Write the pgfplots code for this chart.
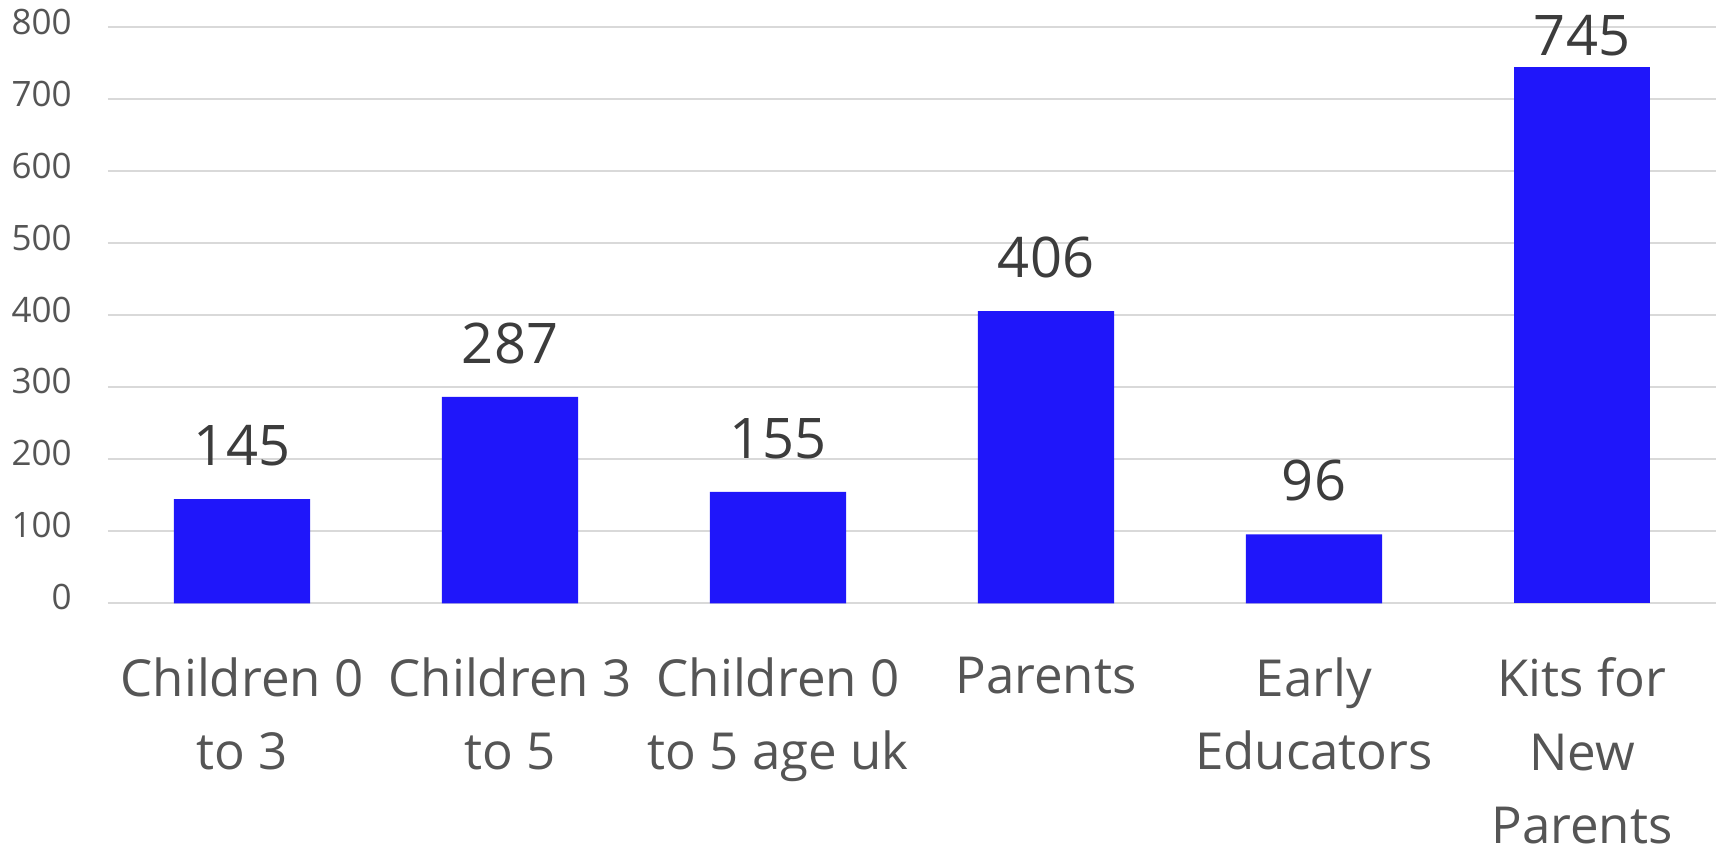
\documentclass[border=0pt]{standalone}
\usepackage{pgfplots}
\pgfplotsset{compat=1.18}
\usepackage{fontspec}
\setmainfont{Open Sans}
\definecolor{barblue}{RGB}{31,22,250}
\definecolor{ticktext}{RGB}{85,85,85}
\definecolor{valtext}{RGB}{60,60,60}
\definecolor{gridc}{RGB}{217,217,217}
\begin{document}
\begin{tikzpicture}
\begin{axis}[
  scale only axis,
  width=804pt, height=288pt,
  xmin=-0.5, xmax=5.5, ymin=0, ymax=800,
  ytick={0,100,...,800},
  xtick={0,1,2,3,4,5},
  xticklabels={{Children 0\\to 3},{Children 3\\to 5},{Children 0\\to 5 age uk},{Parents},{Early\\Educators},{Kits for\\New\\Parents}},
  xticklabel style={font=\fontsize{25.5}{36.8}\selectfont, text=ticktext, align=center, anchor=north, inner sep=0pt, yshift=-22.5pt},
  yticklabel style={font=\fontsize{17.5}{20}\selectfont, text=ticktext, anchor=east, inner sep=0pt, xshift=-18pt, yshift=3pt},
  /pgf/number format/assume math mode=true,
  axis line style={draw=none},
  tick style={draw=none},
  ymajorgrids, major grid style={gridc, line width=1pt},
  ybar, bar width=0.508, bar shift=0pt,
  nodes near coords,
  every node near coord/.append style={font=\fontsize{28}{30}\selectfont, text=valtext, inner sep=0pt, anchor=south},
  clip=false,
]
\addplot[fill=barblue, draw=none, every node near coord/.append style={yshift=16.4pt}] coordinates {(0,145) (1,287) (2,155) (3,406) (4,96)};
\addplot[fill=barblue, draw=none, every node near coord/.append style={yshift=5.3pt}] coordinates {(5,745)};
\coordinate (bl) at (rel axis cs:0,0);
\coordinate (tr) at (rel axis cs:1,1);
\end{axis}
\pgfresetboundingbox
\path ([shift={(-54pt,-120pt)}]bl) rectangle ([shift={(4.5pt,13.75pt)}]tr);
\end{tikzpicture}
\end{document}
